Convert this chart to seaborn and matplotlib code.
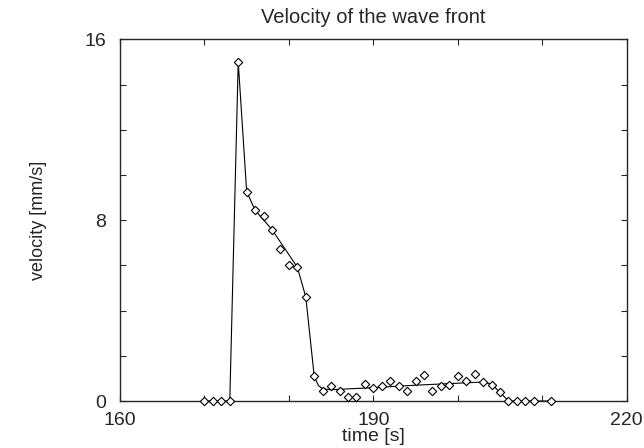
import numpy as np
import pandas as pd
import seaborn as sns
import matplotlib.pyplot as plt

# measured front velocity (points)
time_s = [170, 171, 172, 173, 174, 175, 176, 177, 178, 179, 180, 181, 182, 183,
          184, 185, 186, 187, 188, 189, 190, 191, 192, 193, 194, 195, 196, 197,
          198, 199, 200, 201, 202, 203, 204, 205, 206, 207, 208, 209, 211]
velocity = [0, 0, 0, 0, 15.0, 9.26, 8.44, 8.2, 7.58, 6.74, 6.02, 5.92, 4.6, 1.09,
            0.45, 0.68, 0.43, 0.18, 0.18, 0.74, 0.59, 0.68, 0.9, 0.65, 0.46, 0.9, 1.16, 0.44,
            0.65, 0.71, 1.1, 0.9, 1.21, 0.84, 0.71, 0.38, 0, 0, 0, 0, 0]

# fitted curve (line)
fit_t = [170, 173, 174, 175, 176, 178, 181, 182, 183, 183.5, 184, 185, 190, 195,
         199, 203, 204, 205, 206, 211]
fit_v = [0, 0, 15.0, 9.26, 8.44, 7.58, 5.92, 4.6, 1.09, 0.68, 0.54, 0.5, 0.59, 0.7,
         0.77, 0.84, 0.75, 0.38, 0, 0]

x_ticks = [160, 170, 180, 190, 200, 210, 220]
x_labels = ["160", "", "", "190", "", "", "220"]
y_ticks = [0, 2, 4, 6, 8, 10, 12, 14, 16]
y_labels = ["0", "", "", "", "8", "", "", "", "16"]

sns.set_style("ticks")
plt.rcParams['font.family'] = ['Liberation Sans', 'DejaVu Sans']

pts = pd.DataFrame({"t": time_s, "v": velocity})
fit = pd.DataFrame({"t": fit_t, "v": fit_v})

fig = plt.figure(figsize=(6.44, 4.48), dpi=100)
ax = fig.add_axes([0.1863, 0.1049, 0.7869, 0.8074])

sns.lineplot(data=fit, x="t", y="v", color="black", linewidth=0.8, ax=ax)
sns.scatterplot(data=pts, x="t", y="v", marker="D", s=18, facecolor="white",
                edgecolor="black", linewidth=0.8, zorder=3, clip_on=False, ax=ax)

ax.set_xlim(160, 220)
ax.set_ylim(0, 16)
ax.set_xticks(x_ticks)
ax.set_xticklabels(x_labels)
ax.set_yticks(y_ticks)
ax.set_yticklabels(y_labels)
ax.tick_params(direction="in", length=4, width=0.8, top=True, right=True,
               labelsize=14)
ax.tick_params(axis="y", pad=10)
ax.tick_params(axis="x", pad=8)
for sp in ax.spines.values():
    sp.set_visible(True)
    sp.set_linewidth(1.0)

ax.set_title("Velocity of the wave front", fontsize=14.5, pad=12)
ax.set_xlabel("time [s]", fontsize=14, labelpad=-1)
ax.set_ylabel("velocity [mm/s]", fontsize=13, labelpad=27)

fig.savefig("out.png", dpi=100)
